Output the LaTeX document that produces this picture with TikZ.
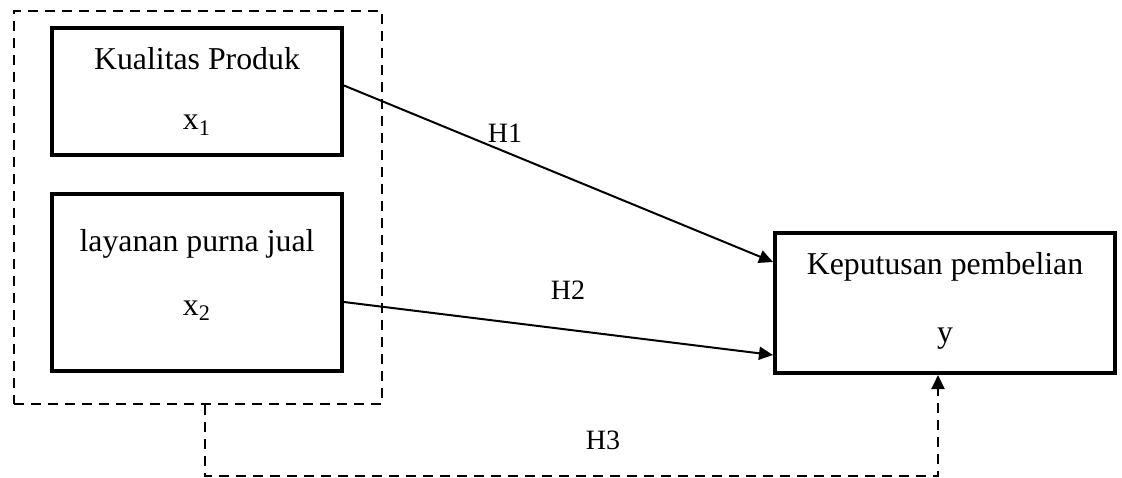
\documentclass[tikz,border=0pt]{standalone}
\usepackage{fontspec}
\setmainfont{Liberation Serif}
\usetikzlibrary{positioning,arrows.meta}

\begin{document}
\begin{tikzpicture}[x=0.5pt, y=-0.5pt,
        varbox/.style={draw, line width=2pt, rectangle, align=center, fill=white, font=\fontsize{15.9}{18}\selectfont},
        grpbox/.style={draw, dashed, line width=1pt, dash pattern=on 5pt off 3.5pt, rectangle},
        lbl/.style={font=\fontsize{14}{16}\selectfont},
        >={Triangle[length=7pt,width=6.5pt]}
    ]
        \useasboundingbox (0,0) rectangle (1122,477);

        \node [grpbox, minimum width=184pt, minimum height=196.5pt] (grp) at (198,207.5) {};
        \node [varbox, minimum width=145pt, minimum height=63.5pt] (kp) at (197,91.5) {Kualitas Produk\\[12pt]x\textsubscript{1}};
        \node [varbox, minimum width=145pt, minimum height=88.5pt, text depth=10pt] (lpj) at (197,282.5) {layanan purna jual\\[14pt]x\textsubscript{2}};
        \node [varbox, minimum width=170pt, minimum height=70pt, text depth=6pt] (kep) at (945,303) {Keputusan pembelian\\[16pt]y};

        \node [lbl] (h1) at (505,133) {H1};
        \node [lbl] (h2) at (568,290) {H2};
        \node [lbl] (h3) at (603,440) {H3};

        \draw [->, line width=1pt] ([yshift=3pt]kp.east) -- ([yshift=20.5pt]kep.west);
        \draw [->, line width=1pt] ([yshift=-9.75pt]lpj.east) -- ([yshift=-26pt]kep.west);
        \draw [->, grpbox] ([xshift=3.5pt]grp.south) -- ++(0pt,-35.5pt) -| ([xshift=-3.5pt]kep.south); % simultan

    \end{tikzpicture}
\end{document}
